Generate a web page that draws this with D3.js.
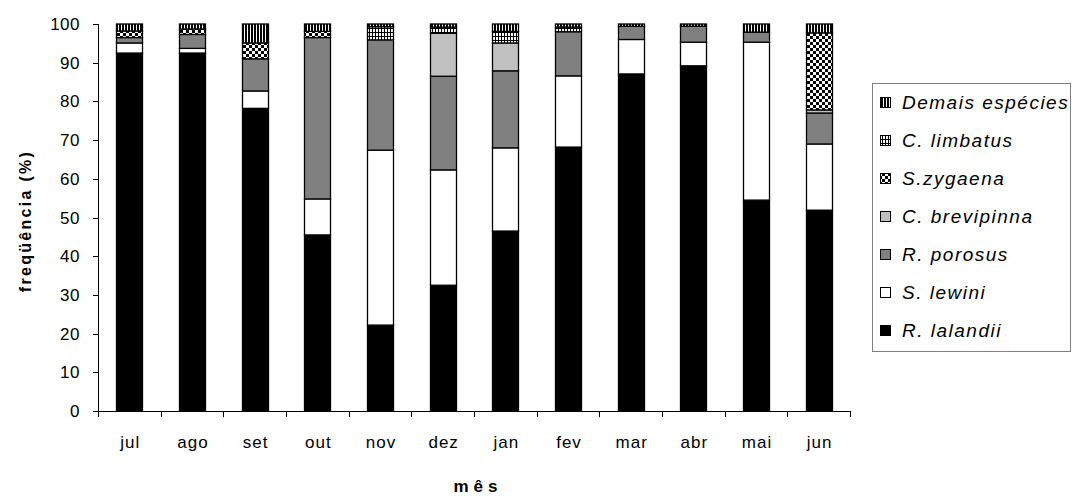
<!DOCTYPE html>
<html><head><meta charset="utf-8">
<script src="https://cdn.jsdelivr.net/npm/d3@7"></script>
<style>
html,body{margin:0;padding:0;background:#fff;}
text{font-family:"Liberation Sans",Arial,sans-serif;fill:#000;}
</style></head>
<body><svg id="c" width="1072" height="496"></svg>
<script>
const months = ["jul","ago","set","out","nov","dez","jan","fev","mar","abr","mai","jun"];
const seriesNames = ["R. lalandii","S. lewini","R. porosus","C. brevipinna","S.zygaena","C. limbatus","Demais espécies"];
const rLalandii   = [92.5,92.5,78.2,45.5,22.2,32.5,46.5,68.2,87.1,89.2,54.5,51.9];
const sLewini     = [2.6,1.2,4.5,9.3,45.2,29.8,21.5,18.4,8.9,6.1,40.8,17.1];
const rPorosus    = [1.4,3.6,8.3,41.7,28.5,24.2,19.9,11.4,3.4,4.1,2.6,8.0];
const cBrevipinna = [0,0,0,0,0,11.1,7.2,0,0,0,0,0.8];
const sZygaena    = [1.7,1.4,4.1,1.6,0,0,0,0,0,0,0,19.9];
const cLimbatus   = [0,0,0,0,3.4,1.6,3.0,1.2,0,0,0,0];
const demais      = [1.8,1.3,4.9,1.9,0.7,0.8,1.9,0.8,0.6,0.6,2.1,2.3];
const yTicks = [0,10,20,30,40,50,60,70,80,90,100];

const seriesValues = [rLalandii,sLewini,rPorosus,cBrevipinna,sZygaena,cLimbatus,demais];
const rows = months.map((m,i)=>{const r={month:m}; seriesNames.forEach((s,j)=>r[s]=seriesValues[j][i]); return r;});
const stacked = d3.stack().keys(seriesNames)(rows);

const svg = d3.select("#c");
const defs = svg.append("defs");
const pDem = defs.append("pattern").attr("id","pDem").attr("patternUnits","userSpaceOnUse").attr("width",3).attr("height",3);
pDem.append("rect").attr("width",3).attr("height",3).attr("fill","#000");
pDem.append("rect").attr("x",1).attr("width",1).attr("height",3).attr("fill","#fff");
const pLim = defs.append("pattern").attr("id","pLim").attr("patternUnits","userSpaceOnUse").attr("width",3).attr("height",4);
pLim.append("rect").attr("width",3).attr("height",4).attr("fill","#fff");
pLim.append("rect").attr("x",0).attr("width",1).attr("height",4).attr("fill","#000");
pLim.append("rect").attr("y",0).attr("width",3).attr("height",1).attr("fill","#000");
const pZyg = defs.append("pattern").attr("id","pZyg").attr("patternUnits","userSpaceOnUse").attr("width",6).attr("height",6);
pZyg.append("rect").attr("width",6).attr("height",6).attr("fill","#fff");
pZyg.append("rect").attr("width",3).attr("height",3).attr("fill","#000");
pZyg.append("rect").attr("x",3).attr("y",3).attr("width",3).attr("height",3).attr("fill","#000");

const fills = {"R. lalandii":"#000","S. lewini":"#fff","R. porosus":"#808080","C. brevipinna":"#c0c0c0",
  "S.zygaena":"url(#pZyg)","C. limbatus":"url(#pLim)","Demais espécies":"url(#pDem)"};

const x = d3.scaleBand().domain(months).range([98,850]).paddingInner(0.585).paddingOuter(0.2925);
const y = d3.scaleLinear().domain([0,100]).range([411,24]);

svg.append("g").selectAll("g").data(stacked).join("g")
  .attr("fill",d=>fills[d.key])
  .selectAll("rect").data(d=>d.filter(p=>p[1]-p[0]>0)).join("rect")
  .attr("x",d=>Math.round(x(d.data.month))+0.5)
  .attr("width",Math.round(x.bandwidth()))
  .attr("y",d=>y(d[1]))
  .attr("height",d=>y(d[0])-y(d[1]))
  .attr("stroke","#000").attr("stroke-width",1.3);

const ya = svg.append("g");
ya.append("line").attr("x1",98.5).attr("x2",98.5).attr("y1",y(100)).attr("y2",y(0)).attr("stroke","#000");
ya.selectAll("line.t").data(yTicks).join("line").attr("class","t")
  .attr("x1",93).attr("x2",98.5).attr("y1",d=>Math.round(y(d))+0.5).attr("y2",d=>Math.round(y(d))+0.5).attr("stroke","#000");
ya.selectAll("text").data(yTicks).join("text")
  .attr("x",80).attr("y",d=>y(d)+6).attr("text-anchor","end")
  .style("font-size","17px").style("letter-spacing","0.5px").text(d=>d);

const xa = svg.append("g");
xa.append("line").attr("x1",98).attr("x2",850).attr("y1",411.5).attr("y2",411.5).attr("stroke","#000");
const bounds = months.map(m=>x(m)-x.step()*x.paddingInner()/2).concat([850]);
xa.selectAll("line.t").data(bounds).join("line").attr("class","t")
  .attr("x1",d=>Math.round(d)+0.5).attr("x2",d=>Math.round(d)+0.5).attr("y1",411).attr("y2",417).attr("stroke","#000");
xa.selectAll("text").data(months).join("text")
  .attr("x",d=>x(d)+x.bandwidth()/2+1).attr("y",448).attr("text-anchor","middle")
  .style("font-size","17px").style("letter-spacing","1px").text(d=>d);

svg.append("text").attr("transform","translate(31,221) rotate(-90)").attr("text-anchor","middle")
  .style("font-size","16px").style("font-weight","bold").style("letter-spacing","2.3px").text("freqüência (%)");
svg.append("text").attr("x",478).attr("y",492).attr("text-anchor","middle")
  .style("font-size","17px").style("font-weight","bold").style("letter-spacing","5px").text("mês");

const lg = svg.append("g");
lg.append("rect").attr("x",872.5).attr("y",83.5).attr("width",198).attr("height",268).attr("fill","#fff").attr("stroke","#808080");
const legendOrder = seriesNames.slice().reverse();
const li = lg.selectAll("g").data(legendOrder).join("g").attr("transform",(d,i)=>`translate(0,${109+i*38})`);
li.append("rect").attr("x",880.5).attr("y",-11.5).attr("width",10).attr("height",10).attr("fill",d=>fills[d]).attr("stroke","#000");
li.append("text").attr("x",902).attr("y",0).style("font-size","19px").style("font-style","italic").style("letter-spacing","1.5px").text(d=>d);
</script></body></html>
